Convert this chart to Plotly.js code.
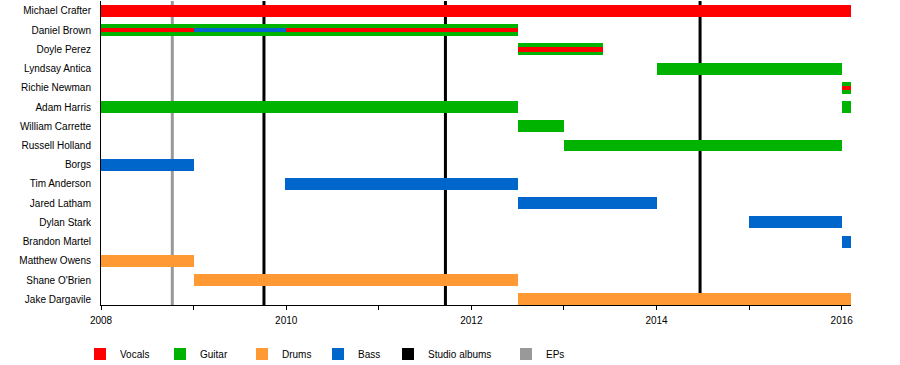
<!DOCTYPE html>
<html>
<head>
<meta charset="utf-8">
<script src="https://cdn.plot.ly/plotly-3.0.1.min.js"></script>
<style>html,body{margin:0;padding:0;background:#fff;}#chart{width:900px;height:365px;}</style>
</head>
<body>
<div id="chart"></div>
<script>
// Band members, top to bottom
const members = ["Michael Crafter","Daniel Brown","Doyle Perez","Lyndsay Antica","Richie Newman","Adam Harris","William Carrette","Russell Holland","Borgs","Tim Anderson","Jared Latham","Dylan Stark","Brandon Martel","Matthew Owens","Shane O'Brien","Jake Dargavile"];

// Vocals (main role)
const vocalsMember = ["Michael Crafter"];
const vocalsStart  = [2008.0];
const vocalsEnd    = [2016.1];

// Guitar (main role)
const guitarMember = ["Daniel Brown","Doyle Perez","Lyndsay Antica","Richie Newman","Adam Harris","Adam Harris","William Carrette","Russell Holland"];
const guitarStart  = [2008.0, 2012.5, 2014.0, 2016.0, 2008.0, 2016.0, 2012.5, 2013.0];
const guitarEnd    = [2012.5, 2013.42, 2016.0, 2016.1, 2012.5, 2016.1, 2013.0, 2016.0];

// Drums (main role)
const drumsMember = ["Matthew Owens","Shane O'Brien","Jake Dargavile"];
const drumsStart  = [2008.0, 2009.0, 2012.5];
const drumsEnd    = [2009.0, 2012.5, 2016.1];

// Bass (main role)
const bassMember = ["Borgs","Tim Anderson","Jared Latham","Dylan Stark","Brandon Martel"];
const bassStart  = [2008.0, 2009.99, 2012.5, 2015.0, 2016.0];
const bassEnd    = [2009.0, 2012.5, 2014.0, 2016.0, 2016.1];

// Secondary roles (thin stripes)
const vocals2Member = ["Daniel Brown","Doyle Perez","Richie Newman"];
const vocals2Start  = [2008.0, 2012.5, 2016.0];
const vocals2End    = [2012.5, 2013.42, 2016.1];
const bass2Member = ["Daniel Brown"];
const bass2Start  = [2009.0];
const bass2End    = [2010.0];

// Release markers
const studioAlbums = [2009.76, 2011.72, 2014.47];
const eps = [2008.77];

// Legend labels
const legendNames = ["Vocals","Guitar","Drums","Bass","Studio albums","EPs"];

const C = {vocals:"#FF0000", guitar:"#00B300", drums:"#FF9933", bass:"#0066CC", album:"#000000", ep:"#999999"};

function span(s, e){ return s.map((v,i)=>e[i]-v); }
function barTrace(name, mem, s, e, color, width, legendId){
  return {type:"bar", orientation:"h", name:name, y:mem, base:s, x:span(s,e),
          width:mem.map(()=>width), marker:{color:color, line:{width:0}},
          showlegend:!!legendId, legend:legendId || "legend", hoverinfo:"skip"};
}
const W = 0.62, WS = 0.23;
const traces = [
  barTrace(legendNames[0], vocalsMember, vocalsStart, vocalsEnd, C.vocals, W, "legend"),
  barTrace(legendNames[1], guitarMember, guitarStart, guitarEnd, C.guitar, W, "legend2"),
  barTrace(legendNames[2], drumsMember, drumsStart, drumsEnd, C.drums, W, "legend3"),
  barTrace(legendNames[3], bassMember, bassStart, bassEnd, C.bass, W, "legend4"),
  barTrace("Vocals (secondary)", vocals2Member, vocals2Start, vocals2End, C.vocals, WS, null),
  barTrace("Bass (secondary)", bass2Member, bass2Start, bass2End, C.bass, WS, null),
  {type:"bar", orientation:"h", name:legendNames[4], y:[null], x:[null], marker:{color:C.album}, showlegend:true, legend:"legend5", hoverinfo:"skip"},
  {type:"bar", orientation:"h", name:legendNames[5], y:[null], x:[null], marker:{color:C.ep}, showlegend:true, legend:"legend6", hoverinfo:"skip"}
];

const shapes = [];
studioAlbums.forEach(v=>shapes.push({type:"line", layer:"below", xref:"x", yref:"paper", x0:v, x1:v, y0:0, y1:1, line:{color:C.album, width:3}}));
eps.forEach(v=>shapes.push({type:"line", layer:"below", xref:"x", yref:"paper", x0:v, x1:v, y0:0, y1:1, line:{color:C.ep, width:3}}));

function legendAt(px){
  return {orientation:"h", xref:"container", yref:"container", x:px/900, y:0.030, xanchor:"left", yanchor:"middle",
          font:{size:10, color:"#000"}, bgcolor:"rgba(0,0,0,0)", itemclick:false, itemdoubleclick:false};
}
const legendX = [80, 160, 242, 318, 388, 506];

const layout = {
  width:900, height:365,
  margin:{l:101, r:49, t:1, b:60, pad:0},
  paper_bgcolor:"#fff", plot_bgcolor:"#fff",
  font:{family:"Liberation Sans, Arial, sans-serif", size:10, color:"#000"},
  barmode:"overlay",
  bargap:0,
  shapes:shapes,
  xaxis:{range:[2008, 2016.1], tickvals:[2008,2010,2012,2014,2016], ticktext:["2008","2010","2012","2014","2016"],
         ticks:"outside", ticklen:4, tickcolor:"#000", tickwidth:1, ticklabelstandoff:2,
         minor:{tickvals:[2009,2011,2013,2015], ticks:"outside", ticklen:4, tickcolor:"#000", tickwidth:1, showgrid:false},
         showline:true, linecolor:"#000", linewidth:1, showgrid:false, zeroline:false,
         tickfont:{size:10, color:"#000"}, fixedrange:true},
  yaxis:{type:"category", categoryorder:"array", categoryarray:members, range:[15.30, -0.52],
         showline:true, linecolor:"#000", linewidth:1, showgrid:false, zeroline:false, ticks:"",
         ticklabelstandoff:7, tickfont:{size:10, color:"#000"}, fixedrange:true},
  legend:legendAt(legendX[0]),
  legend2:legendAt(legendX[1]),
  legend3:legendAt(legendX[2]),
  legend4:legendAt(legendX[3]),
  legend5:legendAt(legendX[4]),
  legend6:legendAt(legendX[5]),
  showlegend:true
};

Plotly.newPlot("chart", traces, layout, {staticPlot:true, displayModeBar:false});
</script>
</body>
</html>
